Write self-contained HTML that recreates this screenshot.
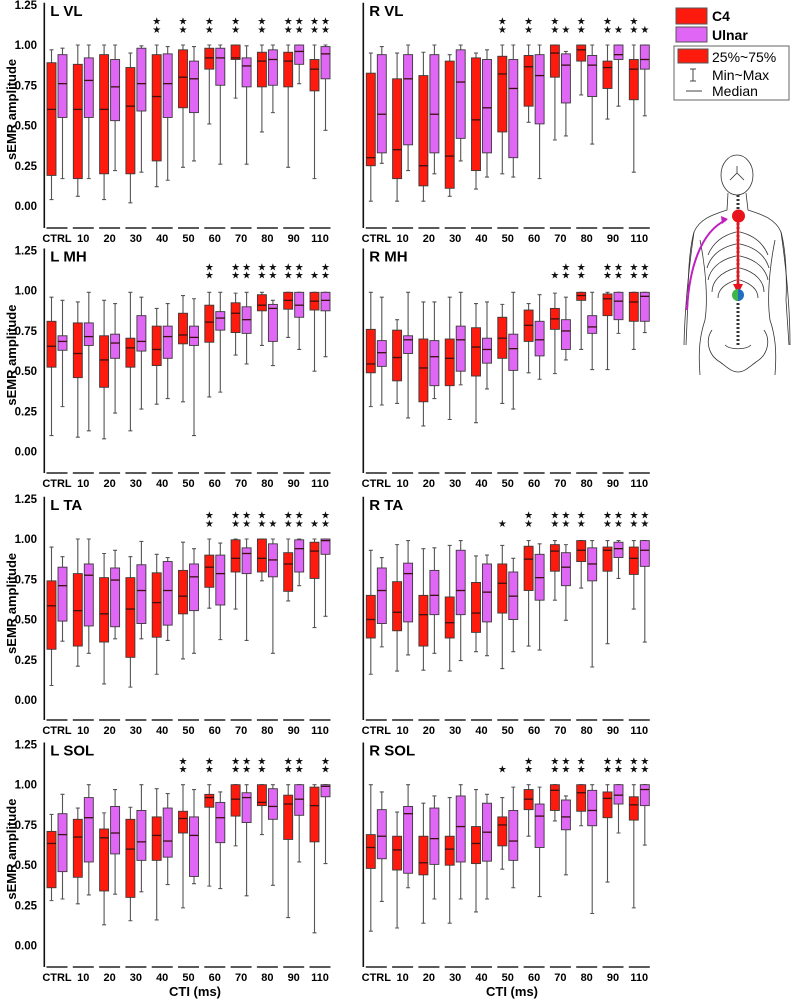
<!DOCTYPE html>
<html><head><meta charset="utf-8"><style>
html,body{margin:0;padding:0;background:#fff;}
svg{display:block;font-family:"Liberation Sans",Arial,sans-serif;}
</style></head><body>
<svg id="chart" width="792" height="999" viewBox="0 0 792 999" xmlns="http://www.w3.org/2000/svg">
<g id="panels"></g>
<g id="legend">
  <rect x="676" y="8" width="31" height="16" fill="#ff1a0e" stroke="#555" stroke-width="1"/>
  <text x="712" y="21" font-size="14" font-weight="bold">C4</text>
  <rect x="676" y="27" width="31" height="15" fill="#e066f5" stroke="#555" stroke-width="1"/>
  <text x="712" y="40" font-size="14" font-weight="bold">Ulnar</text>
  <rect x="674" y="46" width="115" height="54" fill="none" stroke="#666" stroke-width="1"/>
  <rect x="678" y="49" width="30" height="14" fill="#ff1a0e" stroke="#555" stroke-width="1"/>
  <text x="712" y="62" font-size="14">25%~75%</text>
  <path d="M693 69V81M690 69H696M690 81H696" stroke="#444" stroke-width="1" fill="none"/>
  <text x="712" y="80" font-size="14">Min~Max</text>
  <path d="M686 91H702" stroke="#444" stroke-width="1"/>
  <text x="712" y="96" font-size="14">Median</text>
</g>
<g id="body" fill="none" stroke="#333" stroke-width="0.8">
  <ellipse cx="737" cy="175" rx="16" ry="20"/>
  <path d="M730 180L737 173L744 180M737 173V166"/>
  <path d="M728 193L727 210C715 214 700 218 694 232C689 250 688 280 688 300L686 345M746 193L748 210C760 214 775 218 781 232C786 250 787 280 786 300L789 345"/>
  <path d="M700 240C706 270 708 300 705 320C700 335 698 350 700 375M775 240C769 270 767 300 770 320C775 335 777 350 775 375"/>
  <path d="M736 232C720 236 712 245 708 255M740 232C756 236 764 245 768 255M736 244C718 248 710 258 707 268M740 244C758 248 766 258 769 268M736 256C718 260 710 270 708 280M740 256C758 260 766 270 768 280M736 268C720 272 712 282 712 292M740 268C756 272 764 282 764 292M736 280C724 284 718 290 718 298M740 280C752 284 758 290 758 298"/>
  <path d="M738 195V345" stroke-dasharray="2 2" stroke-width="3"/>
  <path d="M712 330C705 340 708 355 720 362C728 368 732 372 738 372C744 372 748 368 756 362C768 355 771 340 764 330M725 345C730 350 746 350 751 345"/>
  <path d="M694 232C690 260 685 300 684 345M781 232C785 260 790 300 790 345"/>
</g>
<path d="M738 216V290" stroke="#e8141c" stroke-width="2.5"/>
<path d="M733 284L738 294L743 284Z" fill="#e8141c"/>
<circle cx="738.5" cy="216" r="6.5" fill="#e8141c"/>
<path d="M738 289A6 6 0 0 0 738 301Z" fill="#3fb54a"/>
<path d="M738 289A6 6 0 0 1 738 301Z" fill="#1f6fc0"/>
<path d="M687 310C689 270 700 232 726 220" stroke="#c020c0" stroke-width="2" fill="none"/>
<path d="M728 219L721 216L722 224Z" fill="#c020c0"/>
<text x="195" y="996" font-size="13" font-weight="bold" text-anchor="middle">CTI (ms)</text>
<text x="512" y="996" font-size="13" font-weight="bold" text-anchor="middle">CTI (ms)</text>
</svg>
<script>
// Shared data
const categories = ["CTRL","10","20","30","40","50","60","70","80","90","110"];
const yTicks = [0, 0.25, 0.5, 0.75, 1.0, 1.25];
const yTickLabels = ["0.00","0.25","0.50","0.75","1.00","1.25"];
// Box stats per category: [max, q3, median, q1, min]
const LVL_c4 = [[0.97,0.89,0.60,0.19,0.04],[1.00,0.88,0.60,0.17,0.06],[1.00,0.94,0.60,0.20,0.04],[0.95,0.86,0.62,0.20,0.02],[1.00,0.94,0.68,0.28,0.12],[1.00,0.97,0.80,0.61,0.24],[1.00,0.98,0.92,0.85,0.51],[1.00,1.00,0.92,0.91,0.67],[1.00,0.955,0.90,0.74,0.46],[1.00,0.955,0.90,0.74,0.24],[1.00,0.91,0.85,0.715,0.17]];
const LVL_ulnar = [[0.98,0.94,0.76,0.55,0.17],[1.0,0.92,0.78,0.55,0.17],[1.0,0.91,0.74,0.53,0.22],[0.995,0.98,0.76,0.59,0.21],[0.99,0.945,0.76,0.55,0.16],[0.99,0.90,0.79,0.58,0.28],[1.0,0.98,0.92,0.75,0.26],[0.995,0.92,0.87,0.74,0.26],[1.0,0.97,0.91,0.75,0.58],[1.0,1.0,0.96,0.88,0.76],[1.0,0.99,0.945,0.79,0.47]];
const LVL_c4Stars = [0,0,0,0,2,2,2,2,2,2,2];
const LVL_ulnarStars = [0,0,0,0,0,0,0,0,0,2,2];

const RVL_c4 = [[0.95,0.825,0.30,0.25,0.03],[0.95,0.79,0.35,0.17,0.03],[0.955,0.81,0.25,0.125,0.03],[0.94,0.90,0.31,0.11,0.06],[0.95,0.92,0.535,0.22,0.105],[1.0,0.93,0.82,0.46,0.20],[1.0,0.935,0.865,0.62,0.52],[1.0,1.0,0.95,0.80,0.41],[1.0,1.0,0.97,0.90,0.69],[1.0,0.90,0.86,0.73,0.54],[1.0,0.91,0.85,0.66,0.21]];
const RVL_ulnar = [[0.99,0.94,0.57,0.33,0.265],[1.0,0.94,0.79,0.38,0.22],[1.0,0.94,0.57,0.33,0.20],[1.0,0.97,0.77,0.42,0.28],[0.97,0.91,0.61,0.33,0.18],[1.0,0.91,0.73,0.30,0.18],[1.0,0.94,0.81,0.51,0.17],[0.96,0.945,0.875,0.64,0.435],[1.0,0.935,0.875,0.68,0.385],[1.0,1.0,0.94,0.91,0.62],[1.0,1.0,0.91,0.85,0.56]];
const RVL_c4Stars = [0,0,0,0,0,2,2,2,2,2,2];
const RVL_ulnarStars = [0,0,0,0,0,0,0,1,0,1,1];

const LMH_c4 = [[0.96,0.81,0.655,0.525,0.10],[0.93,0.80,0.61,0.46,0.09],[0.94,0.72,0.57,0.40,0.08],[0.99,0.705,0.645,0.525,0.13],[0.89,0.78,0.635,0.535,0.295],[0.97,0.86,0.725,0.67,0.31],[0.99,0.91,0.805,0.68,0.34],[0.985,0.925,0.86,0.74,0.60],[0.99,0.975,0.91,0.875,0.66],[0.99,0.99,0.94,0.885,0.71],[0.99,0.99,0.935,0.88,0.50]];
const LMH_ulnar = [[0.94,0.72,0.685,0.63,0.28],[0.99,0.80,0.715,0.66,0.13],[0.92,0.73,0.675,0.58,0.24],[0.96,0.845,0.685,0.625,0.265],[0.92,0.78,0.715,0.58,0.33],[0.95,0.78,0.71,0.66,0.10],[0.99,0.87,0.83,0.755,0.37],[0.99,0.90,0.82,0.735,0.545],[0.94,0.915,0.89,0.685,0.535],[0.99,0.99,0.91,0.835,0.635],[0.99,0.99,0.94,0.875,0.59]];
const LMH_c4Stars = [0,0,0,0,0,0,2,2,2,2,1];
const LMH_ulnarStars = [0,0,0,0,0,0,0,2,2,2,2];

const RMH_c4 = [[0.99,0.76,0.545,0.49,0.28],[0.82,0.755,0.585,0.44,0.30],[0.93,0.70,0.52,0.31,0.16],[0.96,0.70,0.58,0.41,0.20],[0.92,0.77,0.65,0.47,0.18],[0.915,0.835,0.705,0.58,0.30],[0.92,0.88,0.785,0.685,0.49],[0.985,0.89,0.825,0.76,0.485],[0.99,0.99,0.97,0.94,0.635],[0.99,0.98,0.95,0.845,0.51],[0.99,0.99,0.93,0.81,0.635]];
const RMH_ulnar = [[0.96,0.69,0.615,0.53,0.29],[0.99,0.72,0.695,0.61,0.21],[0.93,0.69,0.59,0.41,0.33],[0.99,0.78,0.695,0.50,0.415],[0.93,0.705,0.635,0.55,0.39],[0.99,0.73,0.64,0.505,0.265],[0.975,0.81,0.695,0.595,0.45],[0.96,0.82,0.75,0.635,0.57],[0.99,0.845,0.775,0.735,0.51],[0.99,0.99,0.935,0.82,0.735],[0.99,0.99,0.965,0.81,0.74]];
const RMH_c4Stars = [0,0,0,0,0,0,0,1,2,2,2];
const RMH_ulnarStars = [0,0,0,0,0,0,0,2,0,2,2];

const LTA_c4 = [[0.95,0.74,0.585,0.315,0.09],[1.0,0.785,0.555,0.335,0.21],[0.91,0.76,0.535,0.36,0.10],[0.89,0.76,0.565,0.265,0.08],[0.905,0.79,0.605,0.39,0.16],[0.98,0.805,0.645,0.535,0.255],[1.0,0.90,0.825,0.70,0.57],[1.0,0.995,0.88,0.795,0.565],[1.0,1.0,0.88,0.795,0.74],[1.0,0.915,0.845,0.675,0.615],[1.0,0.98,0.925,0.755,0.45]];
const LTA_ulnar = [[0.89,0.825,0.71,0.49,0.365],[1.0,0.845,0.775,0.46,0.29],[0.93,0.82,0.745,0.455,0.38],[0.985,0.84,0.68,0.475,0.38],[0.885,0.86,0.68,0.465,0.37],[0.94,0.845,0.765,0.555,0.29],[0.975,0.90,0.785,0.59,0.375],[1.0,0.945,0.91,0.785,0.37],[1.0,0.97,0.87,0.765,0.29],[1.0,0.995,0.94,0.795,0.71],[1.0,1.0,0.99,0.905,0.52]];
const LTA_c4Stars = [0,0,0,0,0,0,2,2,2,2,1];
const LTA_ulnarStars = [0,0,0,0,0,0,0,2,1,2,2];

const RTA_c4 = [[0.93,0.65,0.50,0.385,0.16],[0.965,0.735,0.545,0.43,0.18],[0.94,0.65,0.53,0.335,0.185],[0.96,0.64,0.48,0.385,0.18],[0.895,0.73,0.54,0.42,0.30],[0.96,0.845,0.725,0.54,0.195],[0.99,0.955,0.875,0.68,0.335],[0.99,0.965,0.925,0.80,0.62],[0.99,0.99,0.93,0.86,0.695],[0.99,0.95,0.93,0.80,0.35],[0.99,0.95,0.88,0.78,0.565]];
const RTA_ulnar = [[0.885,0.82,0.68,0.475,0.33],[0.99,0.85,0.785,0.485,0.28],[0.945,0.805,0.65,0.53,0.29],[0.99,0.93,0.68,0.53,0.245],[0.90,0.845,0.67,0.485,0.275],[0.88,0.795,0.645,0.50,0.30],[0.97,0.905,0.76,0.62,0.31],[0.965,0.915,0.825,0.71,0.495],[0.99,0.945,0.845,0.74,0.205],[0.99,0.98,0.94,0.885,0.755],[0.99,0.99,0.93,0.83,0.36]];
const RTA_c4Stars = [0,0,0,0,0,1,2,2,2,2,2];
const RTA_ulnarStars = [0,0,0,0,0,0,0,2,0,2,2];

const LSOL_c4 = [[0.815,0.71,0.635,0.36,0.28],[0.855,0.785,0.675,0.425,0.26],[0.825,0.725,0.67,0.34,0.13],[0.86,0.785,0.60,0.30,0.155],[0.975,0.80,0.685,0.53,0.16],[1.0,0.835,0.79,0.70,0.235],[1.0,0.94,0.92,0.86,0.37],[1.0,1.0,0.91,0.805,0.62],[1.0,1.0,0.89,0.87,0.69],[1.0,0.935,0.88,0.66,0.175],[1.0,0.985,0.87,0.645,0.08]];
const LSOL_ulnar = [[0.94,0.82,0.69,0.46,0.29],[1.0,0.92,0.795,0.52,0.315],[0.97,0.865,0.70,0.57,0.32],[1.0,0.84,0.645,0.53,0.335],[0.945,0.855,0.65,0.55,0.38],[0.97,0.80,0.685,0.43,0.385],[0.955,0.89,0.795,0.64,0.355],[1.0,0.95,0.92,0.765,0.31],[1.0,0.975,0.865,0.785,0.375],[1.0,1.0,0.91,0.81,0.52],[1.0,1.0,0.99,0.925,0.51]];
const LSOL_c4Stars = [0,0,0,0,0,2,2,2,2,2,0];
const LSOL_ulnarStars = [0,0,0,0,0,0,0,2,0,2,2];

const RSOL_c4 = [[1.0,0.69,0.61,0.48,0.09],[0.83,0.68,0.595,0.47,0.11],[0.885,0.68,0.515,0.44,0.14],[0.92,0.68,0.60,0.50,0.14],[0.97,0.74,0.635,0.51,0.21],[0.92,0.80,0.75,0.62,0.475],[1.0,0.97,0.91,0.845,0.68],[1.0,1.0,0.965,0.84,0.775],[1.0,1.0,0.95,0.835,0.745],[1.0,0.955,0.915,0.795,0.395],[1.0,0.925,0.875,0.78,0.235]];
const RSOL_ulnar = [[0.955,0.845,0.68,0.54,0.275],[1.0,0.865,0.82,0.45,0.36],[0.93,0.855,0.665,0.505,0.29],[1.0,0.93,0.74,0.52,0.29],[0.94,0.885,0.705,0.525,0.29],[0.985,0.84,0.65,0.53,0.36],[0.985,0.88,0.805,0.61,0.305],[0.93,0.905,0.80,0.72,0.44],[1.0,0.965,0.84,0.745,0.20],[1.0,1.0,0.935,0.88,0.70],[1.0,1.0,0.97,0.87,0.625]];
const RSOL_c4Stars = [0,0,0,0,0,1,2,2,2,2,2];
const RSOL_ulnarStars = [0,0,0,0,0,0,0,2,0,2,2];

const NS = "http://www.w3.org/2000/svg";
function mk(tag, attrs, parent){
  const e = document.createElementNS(NS, tag);
  for (const k in attrs) e.setAttribute(k, attrs[k]);
  parent.appendChild(e);
  return e;
}
const root = document.getElementById("panels");
const rowZero = [206, 451.7, 700, 945.7];
const rowUnder = [228, 473, 720, 967];
const K = 161;
const colAxis = [44.3, 363.3];
const colFirst = [57, 376.3];
const STEP = 26.3;

const panels = [
  {t:"L VL", r:0, c:0, a:LVL_c4, b:LVL_ulnar, sa:LVL_c4Stars, sb:LVL_ulnarStars},
  {t:"R VL", r:0, c:1, a:RVL_c4, b:RVL_ulnar, sa:RVL_c4Stars, sb:RVL_ulnarStars},
  {t:"L MH", r:1, c:0, a:LMH_c4, b:LMH_ulnar, sa:LMH_c4Stars, sb:LMH_ulnarStars},
  {t:"R MH", r:1, c:1, a:RMH_c4, b:RMH_ulnar, sa:RMH_c4Stars, sb:RMH_ulnarStars},
  {t:"L TA", r:2, c:0, a:LTA_c4, b:LTA_ulnar, sa:LTA_c4Stars, sb:LTA_ulnarStars},
  {t:"R TA", r:2, c:1, a:RTA_c4, b:RTA_ulnar, sa:RTA_c4Stars, sb:RTA_ulnarStars},
  {t:"L SOL", r:3, c:0, a:LSOL_c4, b:LSOL_ulnar, sa:LSOL_c4Stars, sb:LSOL_ulnarStars},
  {t:"R SOL", r:3, c:1, a:RSOL_c4, b:RSOL_ulnar, sa:RSOL_c4Stars, sb:RSOL_ulnarStars}
];

function drawBox(g, s, x0, w, fill, yScale, name){
  const bg = mk("g", {}, g);
  
  
  const cx = x0 + w/2;
  const yMax = yScale(s[0]), yQ3 = yScale(s[1]), yMed = yScale(s[2]), yQ1 = yScale(s[3]), yMin = yScale(s[4]);
  mk("path", {d:`M${cx} ${yMax}V${yQ3}M${cx} ${yQ1}V${yMin}M${cx-2} ${yMax}H${cx+2}M${cx-2} ${yMin}H${cx+2}`, stroke:"#555", "stroke-width":1.1, fill:"none"}, bg);
  mk("rect", {x:x0, y:yQ3, width:w, height:Math.max(0.5, yQ1-yQ3), fill:fill, stroke:"#3a3a3a", "stroke-width":0.9}, bg);
  mk("line", {x1:x0, x2:x0+w, y1:yMed, y2:yMed, stroke:"#3a1010", "stroke-width":1.3}, bg);
}

panels.forEach(p => {
  const g = mk("g", {}, root);
  
  
  const y0 = rowZero[p.r];
  const yScale = v => y0 - K*v;
  const ax = colAxis[p.c];
  const under = rowUnder[p.r];
  const ax1 = mk("line", {x1:ax, x2:ax, y1:yScale(1.25)-2, y2:under, stroke:"#111", "stroke-width":1.6}, g);
  
  
  const tt = mk("text", {x:ax+6, y:yScale(1.25)+11, "font-size":15, "font-weight":"bold"}, g);
  tt.textContent = p.t;
  
  
  if (p.c === 0) {
    yTicks.forEach((v, i) => {
      const tl = mk("text", {x:37, y:yScale(v)+4, "font-size":11.5, "font-weight":"bold", "text-anchor":"end"}, g);
      tl.textContent = yTickLabels[i];
      
      
    });
    const ym = yScale(0.6);
    const yt = mk("text", {x:0, y:0, "font-size":13, "font-weight":"bold", "text-anchor":"middle", transform:`translate(16 ${ym}) rotate(-90)`}, g);
    yt.textContent = "sEMR amplitude";
    
    
  }
  categories.forEach((cat, i) => {
    const cx = colFirst[p.c] + STEP*i;
    const ul = mk("line", {x1:cx-10.5, x2:cx+10.5, y1:under, y2:under, stroke:"#222", "stroke-width":1.5}, g);
    
    
    const cl = mk("text", {x:cx, y:under+14, "font-size":11, "font-weight":"bold", "text-anchor":"middle"}, g);
    cl.textContent = cat;
    
    
    drawBox(g, p.a[i], cx-10, 9, "#ff1a0e", yScale, 'box-c4-' + cat);
    drawBox(g, p.b[i], cx+1, 9, "#e066f5", yScale, 'box-ulnar-' + cat);
    [[p.sa[i], cx-5.5],[p.sb[i], cx+5.5]].forEach(([n, sx]) => {
      const rowsY = [yScale(1.097), yScale(1.148)];
      for (let k = 0; k < n; k++) {
        const st = mk("text", {x:sx, y:rowsY[k]+3.5, "font-size":10, "text-anchor":"middle", fill:"#111", "font-family":"DejaVu Sans, sans-serif"}, g);
        st.textContent = "★";
        
        
      }
    });
  });
});
</script>
</body></html>
